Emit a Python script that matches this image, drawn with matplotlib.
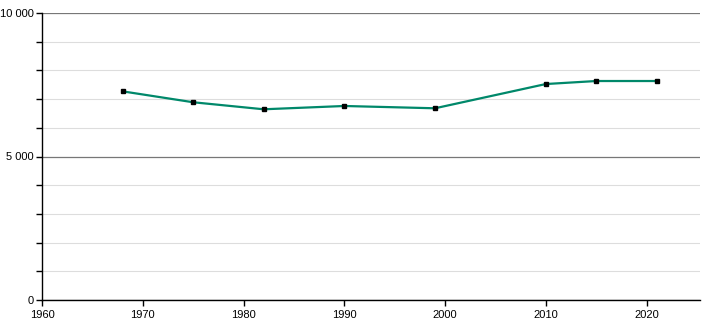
import matplotlib
matplotlib.use("Agg")
import matplotlib.pyplot as plt
from matplotlib.ticker import MultipleLocator, FuncFormatter

years = [1968, 1975, 1982, 1990, 1999, 2010, 2015, 2021]
population = [7270, 6890, 6645, 6760, 6680, 7525, 7630, 7630]

plt.rcParams['font.family'] = ['Liberation Sans', 'DejaVu Sans']

fig = plt.figure(figsize=(7.10, 3.20), dpi=100)
ax = fig.add_axes([42/710, 20/320, 658/710, 287/320])

ax.set_xlim(1960, 2025.3)
ax.set_ylim(0, 10000)

ax.yaxis.set_major_locator(MultipleLocator(5000))
ax.yaxis.set_minor_locator(MultipleLocator(1000))
ax.xaxis.set_major_locator(MultipleLocator(10))
ax.yaxis.set_major_formatter(FuncFormatter(lambda v, p: f"{int(v):,}".replace(",", " ")))

ax.grid(which='minor', axis='y', color='#dddddd', linewidth=0.8)
ax.grid(which='major', axis='y', color='#777777', linewidth=0.9)
ax.set_axisbelow(True)

for s in ['top', 'right']:
    ax.spines[s].set_visible(False)
for s in ['left', 'bottom']:
    ax.spines[s].set_color('black')
    ax.spines[s].set_linewidth(1.0)

ax.tick_params(axis='both', which='major', direction='out', length=4, width=1, labelsize=8, colors='black')
ax.tick_params(axis='y', which='minor', direction='out', length=4, width=1)
ax.tick_params(axis='y', which='major', pad=2)

ax.plot(years, population, color='#00886a', linewidth=1.6, marker='s', markersize=3.1,
        markerfacecolor='black', markeredgecolor='black', zorder=3)

fig.savefig("out.png", dpi=100)
